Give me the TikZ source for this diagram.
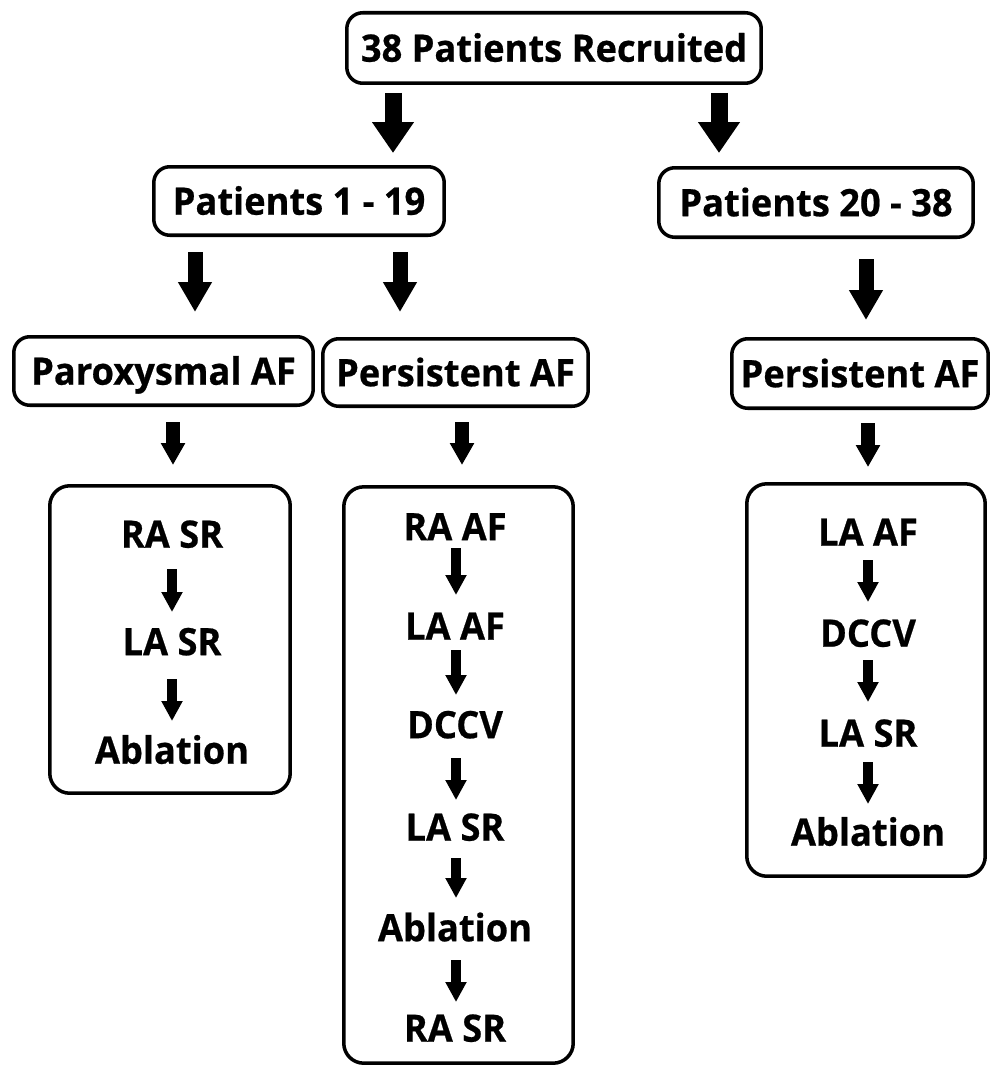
\documentclass[tikz,border=0pt]{standalone}
\usepackage{fontspec}
\setmainfont{Open Sans}[BoldFeatures={FakeStretch=0.96,FakeBold=0.6}]
\usetikzlibrary{arrows.meta}
\newcommand\barrow[5]{\coordinate (#1s) at (#3,#4); \coordinate (#1e) at (#3,#5); \draw[#2] (#1s) -- (#1e);}
\begin{document}
\begin{tikzpicture}[x=0.02cm,y=-0.02cm,
  lbl/.style={font=\fontsize{21.5}{25}\selectfont\bfseries, text height=15.6pt, text depth=0pt, inner sep=0pt},
  box/.style={draw, line width=2pt, rounded corners=0.32cm, inner sep=0pt, lbl},
  tbox/.style={draw, line width=2pt, rounded corners=0.4cm, inner sep=0pt},
  arrA/.style={line width=0.34cm, -{Triangle[length=0.62cm, width=0.8cm]}},
  arrB/.style={line width=0.30cm, -{Triangle[length=0.6cm, width=0.64cm]}},
  arrC/.style={line width=0.29cm, -{Triangle[length=0.44cm, width=0.46cm]}},
  arrD/.style={line width=0.2cm, -{Triangle[length=0.4cm, width=0.4cm]}}]
\useasboundingbox (0,0) rectangle (991,1068);

% top level
\node[box, minimum width=8.29cm, minimum height=1.41cm] (top) at (554,48) {38 Patients Recruited};
\barrow{A1}{arrA}{393}{93}{153}
\barrow{A2}{arrA}{719}{93}{153}

% second level
\node[box, minimum width=5.81cm, minimum height=1.37cm] (p1) at (299,201) {Patients 1 - 19};
\node[box, minimum width=6.29cm, minimum height=1.39cm] (p2) at (816,202.5) {Patients 20 - 38};
\barrow{B1}{arrB}{195}{252}{312}
\barrow{B2}{arrB}{400}{252}{312}
\barrow{B3}{arrB}{866}{259}{320}

% third level
\node[box, minimum width=5.99cm, minimum height=1.37cm] (parox) at (163.5,371) {Paroxysmal AF};
\node[box, minimum width=5.31cm, minimum height=1.35cm] (persA) at (455.5,372.5) {Persistent AF};
\node[box, minimum width=5.13cm, minimum height=1.39cm] (persB) at (860,373.5) {Persistent AF};
\barrow{C1}{arrC}{173}{422}{465}
\barrow{C2}{arrC}{462}{422}{465}
\barrow{C3}{arrC}{868}{423}{467}

% tall boxes
\node[tbox, minimum width=4.81cm, minimum height=6.15cm] (L) at (170,639.5) {};
\node[tbox, minimum width=4.59cm, minimum height=11.53cm] (M) at (458.5,775) {};
\node[tbox, minimum width=4.77cm, minimum height=7.85cm] (R) at (866,680) {};

% left box contents
\node[lbl] (L1) at (172,534) {RA SR};
\node[lbl] (L2) at (172,641.5) {LA SR};
\node[lbl] (L3) at (172,750) {Ablation};
\barrow{L12}{arrD}{172}{569}{612}
\barrow{L23}{arrD}{172}{679}{721}

% middle box contents
\node[lbl] (M1) at (455,526.5) {RA AF};
\node[lbl] (M2) at (455,626) {LA AF};
\node[lbl] (M3) at (455,724.5) {DCCV};
\node[lbl] (M4) at (455,827) {LA SR};
\node[lbl] (M5) at (455,927.5) {Ablation};
\node[lbl] (M6) at (455,1028) {RA SR};
\barrow{M12}{arrD}{456}{548}{595}
\barrow{M23}{arrD}{456}{650}{695}
\barrow{M34}{arrD}{456}{758}{800}
\barrow{M45}{arrD}{456}{858}{898}
\barrow{M56}{arrD}{456}{960}{1002}

% right box contents
\node[lbl] (R1) at (868,532) {LA AF};
\node[lbl] (R2) at (868,633) {DCCV};
\node[lbl] (R3) at (868,733) {LA SR};
\node[lbl] (R4) at (868,832) {Ablation};
\barrow{R12}{arrD}{868}{560}{602}
\barrow{R23}{arrD}{868}{660}{702}
\barrow{R34}{arrD}{868}{762}{804}
\end{tikzpicture}
\end{document}
